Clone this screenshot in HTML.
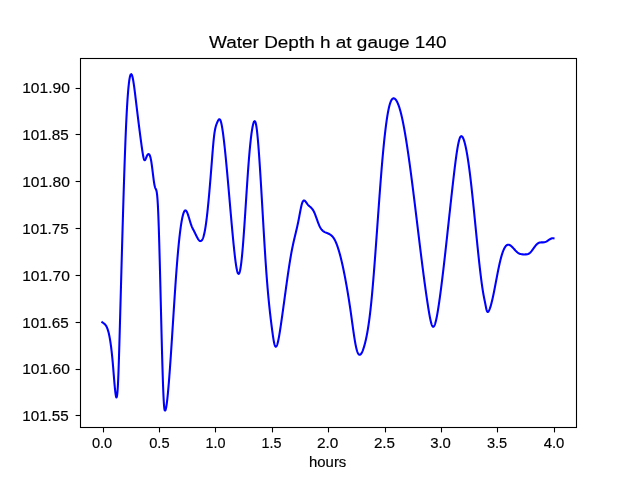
<!DOCTYPE html>
<html><head><meta charset="utf-8"><style>
html,body{margin:0;padding:0;background:#fff;width:640px;height:480px;overflow:hidden}
svg{display:block;will-change:transform}
text{font-family:"Liberation Sans", sans-serif;fill:#000;stroke:#000;stroke-width:0.15px}
</style></head><body>
<svg width="640" height="480" viewBox="0 0 640 480">
<rect width="640" height="480" fill="#fff"/>
<rect x="80.5" y="58.5" width="496" height="369" fill="none" stroke="#000" stroke-width="1.1"/>
<line x1="75.6" y1="88.5" x2="80.5" y2="88.5" stroke="#000" stroke-width="1.1"/>
<line x1="75.6" y1="134.5" x2="80.5" y2="134.5" stroke="#000" stroke-width="1.1"/>
<line x1="75.6" y1="181.5" x2="80.5" y2="181.5" stroke="#000" stroke-width="1.1"/>
<line x1="75.6" y1="228.5" x2="80.5" y2="228.5" stroke="#000" stroke-width="1.1"/>
<line x1="75.6" y1="275.5" x2="80.5" y2="275.5" stroke="#000" stroke-width="1.1"/>
<line x1="75.6" y1="322.5" x2="80.5" y2="322.5" stroke="#000" stroke-width="1.1"/>
<line x1="75.6" y1="369.5" x2="80.5" y2="369.5" stroke="#000" stroke-width="1.1"/>
<line x1="75.6" y1="415.5" x2="80.5" y2="415.5" stroke="#000" stroke-width="1.1"/>
<line x1="103.5" y1="427.5" x2="103.5" y2="432.4" stroke="#000" stroke-width="1.1"/>
<line x1="159.5" y1="427.5" x2="159.5" y2="432.4" stroke="#000" stroke-width="1.1"/>
<line x1="215.5" y1="427.5" x2="215.5" y2="432.4" stroke="#000" stroke-width="1.1"/>
<line x1="272.5" y1="427.5" x2="272.5" y2="432.4" stroke="#000" stroke-width="1.1"/>
<line x1="328.5" y1="427.5" x2="328.5" y2="432.4" stroke="#000" stroke-width="1.1"/>
<line x1="385.5" y1="427.5" x2="385.5" y2="432.4" stroke="#000" stroke-width="1.1"/>
<line x1="441.5" y1="427.5" x2="441.5" y2="432.4" stroke="#000" stroke-width="1.1"/>
<line x1="497.5" y1="427.5" x2="497.5" y2="432.4" stroke="#000" stroke-width="1.1"/>
<line x1="554.5" y1="427.5" x2="554.5" y2="432.4" stroke="#000" stroke-width="1.1"/>
<text x="22.20" y="93.35" font-size="13.90" textLength="47.70" lengthAdjust="spacingAndGlyphs">101.90</text>
<text x="22.20" y="140.19" font-size="13.90" textLength="46.60" lengthAdjust="spacingAndGlyphs">101.85</text>
<text x="22.20" y="187.03" font-size="13.90" textLength="47.70" lengthAdjust="spacingAndGlyphs">101.80</text>
<text x="22.20" y="233.87" font-size="13.90" textLength="46.60" lengthAdjust="spacingAndGlyphs">101.75</text>
<text x="22.20" y="280.71" font-size="13.90" textLength="47.70" lengthAdjust="spacingAndGlyphs">101.70</text>
<text x="22.20" y="327.55" font-size="13.90" textLength="46.60" lengthAdjust="spacingAndGlyphs">101.65</text>
<text x="22.20" y="374.39" font-size="13.90" textLength="47.70" lengthAdjust="spacingAndGlyphs">101.60</text>
<text x="22.20" y="421.23" font-size="13.90" textLength="46.60" lengthAdjust="spacingAndGlyphs">101.55</text>
<text x="91.90" y="447.80" font-size="13.90" textLength="20.30" lengthAdjust="spacingAndGlyphs">0.0</text>
<text x="149.20" y="447.80" font-size="13.90" textLength="20.40" lengthAdjust="spacingAndGlyphs">0.5</text>
<text x="205.60" y="447.80" font-size="13.90" textLength="20.00" lengthAdjust="spacingAndGlyphs">1.0</text>
<text x="261.60" y="447.80" font-size="13.90" textLength="20.00" lengthAdjust="spacingAndGlyphs">1.5</text>
<text x="316.90" y="447.80" font-size="13.90" textLength="21.40" lengthAdjust="spacingAndGlyphs">2.0</text>
<text x="373.90" y="447.80" font-size="13.90" textLength="21.10" lengthAdjust="spacingAndGlyphs">2.5</text>
<text x="430.20" y="447.80" font-size="13.90" textLength="20.70" lengthAdjust="spacingAndGlyphs">3.0</text>
<text x="486.95" y="447.80" font-size="13.90" textLength="20.30" lengthAdjust="spacingAndGlyphs">3.5</text>
<text x="543.70" y="447.80" font-size="13.90" textLength="20.70" lengthAdjust="spacingAndGlyphs">4.0</text>
<text x="309.00" y="466.75" font-size="13.90" textLength="37.30" lengthAdjust="spacingAndGlyphs">hours</text>
<text x="209.00" y="48.30" font-size="16.67" textLength="237.50" lengthAdjust="spacingAndGlyphs">Water Depth h at gauge 140</text>
<path d="M102.30,322.26 L102.80,322.63 L103.30,322.98 L103.80,323.34 L104.28,323.71 L104.74,324.13 L105.16,324.57 L105.54,325.03 L105.90,325.54 L106.22,326.06 L106.52,326.61 L106.80,327.19 L107.06,327.78 L107.30,328.38 L107.52,328.97 L107.72,329.55 L107.92,330.17 L108.10,330.77 L108.28,331.40 L108.44,331.99 L108.60,332.61 L108.76,333.27 L108.90,333.86 L109.04,334.49 L109.18,335.13 L109.32,335.81 L109.44,336.41 L109.56,337.03 L109.68,337.67 L109.80,338.33 L109.92,339.01 L110.04,339.72 L110.14,340.32 L110.24,340.94 L110.34,341.58 L110.44,342.23 L110.54,342.90 L110.64,343.59 L110.74,344.30 L110.84,345.02 L110.94,345.76 L111.02,346.36 L111.10,346.98 L111.18,347.61 L111.26,348.25 L111.34,348.91 L111.42,349.58 L111.50,350.26 L111.58,350.95 L111.66,351.65 L111.74,352.37 L111.82,353.11 L111.90,353.85 L111.98,354.61 L112.06,355.38 L112.14,356.17 L112.20,356.77 L112.26,357.38 L112.32,357.99 L112.38,358.62 L112.44,359.25 L112.50,359.89 L112.56,360.54 L112.62,361.19 L112.68,361.86 L112.74,362.53 L112.80,363.21 L112.86,363.90 L112.92,364.60 L112.98,365.31 L113.04,366.02 L113.10,366.74 L113.16,367.47 L113.22,368.20 L113.28,368.93 L113.34,369.67 L113.40,370.41 L113.46,371.15 L113.52,371.89 L113.58,372.64 L113.64,373.39 L113.70,374.13 L113.76,374.88 L113.82,375.62 L113.88,376.37 L113.94,377.11 L114.00,377.84 L114.06,378.58 L114.12,379.31 L114.18,380.03 L114.24,380.75 L114.30,381.46 L114.36,382.17 L114.42,382.86 L114.48,383.55 L114.54,384.23 L114.60,384.91 L114.66,385.57 L114.72,386.22 L114.78,386.86 L114.84,387.49 L114.90,388.10 L114.96,388.70 L115.04,389.49 L115.12,390.24 L115.20,390.97 L115.28,391.67 L115.36,392.34 L115.44,392.98 L115.52,393.58 L115.62,394.29 L115.72,394.93 L115.84,395.62 L115.98,396.30 L116.14,396.89 L116.44,397.40 L116.78,396.93 L116.94,396.27 L117.06,395.58 L117.16,394.87 L117.24,394.21 L117.32,393.46 L117.38,392.84 L117.44,392.18 L117.50,391.46 L117.56,390.69 L117.62,389.87 L117.68,389.00 L117.72,388.39 L117.76,387.75 L117.80,387.09 L117.84,386.40 L117.88,385.69 L117.92,384.95 L117.96,384.19 L118.00,383.40 L118.04,382.59 L118.08,381.75 L118.12,380.88 L118.16,379.99 L118.20,379.08 L118.24,378.15 L118.28,377.19 L118.32,376.21 L118.36,375.21 L118.40,374.18 L118.44,373.14 L118.48,372.08 L118.52,371.00 L118.56,369.89 L118.60,368.77 L118.64,367.64 L118.68,366.48 L118.72,365.31 L118.76,364.12 L118.78,363.52 L118.80,362.92 L118.82,362.31 L118.84,361.70 L118.86,361.08 L118.88,360.46 L118.90,359.84 L118.92,359.21 L118.94,358.58 L118.96,357.95 L118.98,357.31 L119.00,356.67 L119.02,356.03 L119.04,355.38 L119.06,354.73 L119.08,354.08 L119.10,353.42 L119.12,352.77 L119.14,352.10 L119.16,351.44 L119.18,350.77 L119.20,350.10 L119.22,349.43 L119.24,348.76 L119.26,348.08 L119.28,347.40 L119.30,346.72 L119.32,346.04 L119.34,345.35 L119.36,344.66 L119.38,343.97 L119.40,343.28 L119.42,342.59 L119.44,341.89 L119.46,341.19 L119.48,340.49 L119.50,339.79 L119.52,339.09 L119.54,338.39 L119.56,337.68 L119.58,336.97 L119.60,336.26 L119.62,335.55 L119.64,334.84 L119.66,334.13 L119.68,333.42 L119.70,332.70 L119.72,331.99 L119.74,331.27 L119.76,330.55 L119.78,329.84 L119.80,329.12 L119.82,328.40 L119.84,327.68 L119.86,326.96 L119.88,326.24 L119.90,325.51 L119.92,324.79 L119.94,324.07 L119.96,323.35 L119.98,322.62 L120.00,321.90 L120.02,321.18 L120.04,320.45 L120.06,319.73 L120.08,319.01 L120.10,318.28 L120.12,317.56 L120.14,316.83 L120.16,316.11 L120.18,315.38 L120.20,314.66 L120.22,313.93 L120.24,313.20 L120.26,312.48 L120.28,311.75 L120.30,311.02 L120.32,310.30 L120.34,309.57 L120.36,308.84 L120.38,308.12 L120.40,307.39 L120.42,306.66 L120.44,305.93 L120.46,305.20 L120.48,304.48 L120.50,303.75 L120.52,303.02 L120.54,302.29 L120.56,301.56 L120.58,300.83 L120.60,300.11 L120.62,299.38 L120.64,298.65 L120.66,297.92 L120.68,297.19 L120.70,296.46 L120.72,295.73 L120.74,295.00 L120.76,294.27 L120.78,293.55 L120.80,292.82 L120.82,292.09 L120.84,291.36 L120.86,290.63 L120.88,289.90 L120.90,289.17 L120.92,288.44 L120.94,287.72 L120.96,286.99 L120.98,286.26 L121.00,285.53 L121.02,284.80 L121.04,284.07 L121.06,283.35 L121.08,282.62 L121.10,281.89 L121.12,281.16 L121.14,280.44 L121.16,279.71 L121.18,278.98 L121.20,278.25 L121.22,277.53 L121.24,276.80 L121.26,276.07 L121.28,275.35 L121.30,274.62 L121.32,273.90 L121.34,273.17 L121.36,272.45 L121.38,271.72 L121.40,271.00 L121.42,270.27 L121.44,269.55 L121.46,268.82 L121.48,268.10 L121.50,267.38 L121.52,266.65 L121.54,265.93 L121.56,265.21 L121.58,264.49 L121.60,263.76 L121.62,263.04 L121.64,262.32 L121.66,261.60 L121.68,260.88 L121.70,260.16 L121.72,259.44 L121.74,258.72 L121.76,258.00 L121.78,257.29 L121.80,256.57 L121.82,255.85 L121.84,255.13 L121.86,254.42 L121.88,253.70 L121.90,252.98 L121.92,252.27 L121.94,251.55 L121.96,250.84 L121.98,250.13 L122.00,249.41 L122.02,248.70 L122.04,247.99 L122.06,247.27 L122.08,246.56 L122.10,245.85 L122.12,245.14 L122.14,244.43 L122.16,243.72 L122.18,243.02 L122.20,242.31 L122.22,241.60 L122.24,240.89 L122.26,240.19 L122.28,239.48 L122.30,238.78 L122.32,238.07 L122.34,237.37 L122.36,236.67 L122.38,235.96 L122.40,235.26 L122.42,234.56 L122.44,233.86 L122.46,233.16 L122.48,232.46 L122.50,231.76 L122.52,231.06 L122.54,230.37 L122.56,229.67 L122.58,228.98 L122.60,228.28 L122.62,227.59 L122.64,226.89 L122.66,226.20 L122.68,225.51 L122.70,224.82 L122.72,224.13 L122.74,223.44 L122.76,222.75 L122.78,222.06 L122.80,221.38 L122.82,220.69 L122.84,220.00 L122.86,219.32 L122.88,218.64 L122.90,217.95 L122.92,217.27 L122.94,216.59 L122.96,215.91 L122.98,215.23 L123.00,214.55 L123.02,213.88 L123.04,213.20 L123.06,212.52 L123.08,211.85 L123.10,211.18 L123.12,210.50 L123.14,209.83 L123.16,209.16 L123.18,208.49 L123.20,207.82 L123.22,207.15 L123.24,206.49 L123.26,205.82 L123.28,205.16 L123.30,204.49 L123.32,203.83 L123.34,203.17 L123.36,202.51 L123.38,201.85 L123.40,201.19 L123.42,200.53 L123.44,199.87 L123.46,199.22 L123.48,198.56 L123.50,197.91 L123.52,197.26 L123.54,196.61 L123.56,195.96 L123.58,195.31 L123.60,194.66 L123.62,194.02 L123.64,193.37 L123.66,192.73 L123.68,192.08 L123.70,191.44 L123.72,190.80 L123.74,190.16 L123.76,189.52 L123.78,188.89 L123.80,188.25 L123.82,187.62 L123.84,186.98 L123.86,186.35 L123.88,185.72 L123.90,185.09 L123.92,184.46 L123.94,183.84 L123.96,183.21 L123.98,182.59 L124.00,181.96 L124.02,181.34 L124.04,180.72 L124.06,180.10 L124.08,179.48 L124.10,178.87 L124.12,178.25 L124.14,177.64 L124.16,177.03 L124.18,176.41 L124.20,175.80 L124.22,175.20 L124.24,174.59 L124.26,173.98 L124.28,173.38 L124.30,172.78 L124.32,172.18 L124.34,171.58 L124.38,170.38 L124.42,169.19 L124.46,168.01 L124.50,166.83 L124.54,165.66 L124.58,164.50 L124.62,163.34 L124.66,162.18 L124.70,161.04 L124.74,159.90 L124.78,158.76 L124.82,157.64 L124.86,156.52 L124.90,155.40 L124.94,154.29 L124.98,153.19 L125.02,152.10 L125.06,151.01 L125.10,149.93 L125.14,148.86 L125.18,147.79 L125.22,146.74 L125.26,145.68 L125.30,144.64 L125.34,143.60 L125.38,142.57 L125.42,141.55 L125.46,140.54 L125.50,139.53 L125.54,138.53 L125.58,137.54 L125.62,136.56 L125.66,135.58 L125.70,134.61 L125.74,133.65 L125.78,132.70 L125.82,131.76 L125.86,130.82 L125.90,129.89 L125.94,128.98 L125.98,128.07 L126.02,127.16 L126.06,126.27 L126.10,125.38 L126.14,124.51 L126.18,123.64 L126.22,122.78 L126.26,121.93 L126.30,121.09 L126.34,120.25 L126.38,119.43 L126.42,118.61 L126.46,117.80 L126.50,117.00 L126.54,116.21 L126.58,115.43 L126.62,114.65 L126.66,113.89 L126.70,113.13 L126.74,112.38 L126.78,111.63 L126.82,110.90 L126.86,110.17 L126.90,109.46 L126.94,108.75 L126.98,108.05 L127.02,107.35 L127.06,106.67 L127.10,105.99 L127.14,105.32 L127.18,104.66 L127.22,104.00 L127.26,103.36 L127.30,102.72 L127.34,102.09 L127.38,101.47 L127.42,100.85 L127.46,100.25 L127.50,99.65 L127.56,98.77 L127.62,97.90 L127.68,97.05 L127.74,96.22 L127.80,95.40 L127.86,94.60 L127.92,93.82 L127.98,93.06 L128.04,92.31 L128.10,91.58 L128.16,90.86 L128.22,90.16 L128.28,89.48 L128.34,88.81 L128.40,88.16 L128.46,87.53 L128.52,86.91 L128.58,86.31 L128.66,85.53 L128.74,84.78 L128.82,84.05 L128.90,83.36 L128.98,82.69 L129.06,82.05 L129.14,81.43 L129.24,80.70 L129.34,80.01 L129.44,79.36 L129.54,78.75 L129.66,78.07 L129.78,77.45 L129.92,76.79 L130.08,76.13 L130.26,75.51 L130.48,74.90 L130.78,74.36 L131.30,74.16 L131.70,74.60 L131.96,75.16 L132.16,75.73 L132.34,76.33 L132.50,76.95 L132.64,77.55 L132.78,78.19 L132.90,78.78 L133.02,79.41 L133.14,80.06 L133.26,80.75 L133.36,81.34 L133.46,81.96 L133.56,82.59 L133.66,83.24 L133.76,83.90 L133.86,84.59 L133.96,85.28 L134.06,86.00 L134.16,86.72 L134.26,87.46 L134.34,88.06 L134.42,88.67 L134.50,89.28 L134.58,89.90 L134.66,90.52 L134.74,91.16 L134.82,91.79 L134.90,92.43 L134.98,93.08 L135.06,93.73 L135.14,94.38 L135.22,95.03 L135.30,95.69 L135.38,96.35 L135.46,97.01 L135.54,97.67 L135.62,98.34 L135.70,99.00 L135.78,99.67 L135.86,100.33 L135.94,100.99 L136.02,101.66 L136.10,102.32 L136.18,102.98 L136.26,103.65 L136.34,104.31 L136.42,104.97 L136.50,105.64 L136.58,106.30 L136.66,106.96 L136.74,107.62 L136.82,108.28 L136.90,108.94 L136.98,109.60 L137.06,110.26 L137.14,110.92 L137.22,111.58 L137.30,112.24 L137.38,112.89 L137.46,113.55 L137.54,114.20 L137.62,114.86 L137.70,115.51 L137.78,116.17 L137.86,116.82 L137.94,117.47 L138.02,118.12 L138.10,118.77 L138.18,119.42 L138.26,120.06 L138.34,120.71 L138.42,121.35 L138.50,122.00 L138.58,122.64 L138.66,123.28 L138.74,123.92 L138.82,124.56 L138.90,125.20 L138.98,125.83 L139.06,126.47 L139.14,127.10 L139.22,127.73 L139.30,128.37 L139.38,128.99 L139.46,129.62 L139.54,130.25 L139.62,130.87 L139.70,131.49 L139.78,132.11 L139.86,132.73 L139.94,133.35 L140.02,133.97 L140.10,134.58 L140.18,135.19 L140.26,135.80 L140.34,136.41 L140.42,137.01 L140.50,137.62 L140.58,138.22 L140.66,138.82 L140.74,139.42 L140.82,140.01 L140.92,140.76 L141.02,141.49 L141.12,142.23 L141.22,142.96 L141.32,143.69 L141.42,144.41 L141.52,145.13 L141.62,145.85 L141.72,146.56 L141.82,147.27 L141.92,147.97 L142.02,148.67 L142.12,149.36 L142.22,150.05 L142.32,150.73 L142.42,151.39 L142.52,152.05 L142.62,152.69 L142.72,153.31 L142.82,153.92 L142.94,154.63 L143.06,155.30 L143.18,155.95 L143.30,156.56 L143.44,157.23 L143.58,157.84 L143.74,158.46 L143.92,159.07 L144.14,159.65 L144.46,160.16 L145.00,160.12 L145.36,159.61 L145.64,159.04 L145.88,158.46 L146.10,157.89 L146.32,157.32 L146.54,156.76 L146.78,156.19 L147.04,155.64 L147.34,155.08 L147.68,154.57 L148.12,154.14 L148.70,154.00 L149.20,154.34 L149.54,154.84 L149.80,155.39 L150.02,155.96 L150.22,156.58 L150.40,157.22 L150.56,157.85 L150.70,158.46 L150.84,159.11 L150.96,159.72 L151.08,160.36 L151.20,161.04 L151.30,161.64 L151.40,162.26 L151.50,162.91 L151.60,163.59 L151.70,164.29 L151.80,165.01 L151.90,165.74 L151.98,166.34 L152.06,166.96 L152.14,167.58 L152.22,168.20 L152.30,168.84 L152.38,169.48 L152.46,170.12 L152.54,170.77 L152.62,171.42 L152.70,172.07 L152.78,172.72 L152.86,173.38 L152.94,174.03 L153.02,174.68 L153.10,175.32 L153.18,175.96 L153.26,176.60 L153.34,177.23 L153.42,177.85 L153.50,178.47 L153.58,179.07 L153.68,179.81 L153.78,180.54 L153.88,181.24 L153.98,181.92 L154.08,182.58 L154.18,183.21 L154.28,183.82 L154.40,184.50 L154.52,185.14 L154.64,185.73 L154.78,186.36 L154.94,186.97 L155.14,187.59 L155.38,188.17 L155.66,188.71 L155.94,189.26 L156.18,189.85 L156.36,190.42 L156.52,191.06 L156.66,191.75 L156.78,192.44 L156.88,193.10 L156.98,193.84 L157.06,194.50 L157.14,195.22 L157.22,196.01 L157.28,196.64 L157.34,197.31 L157.40,198.02 L157.46,198.78 L157.52,199.58 L157.58,200.43 L157.64,201.32 L157.68,201.94 L157.72,202.59 L157.76,203.25 L157.80,203.94 L157.84,204.66 L157.88,205.39 L157.92,206.15 L157.96,206.94 L158.00,207.75 L158.04,208.58 L158.08,209.43 L158.12,210.31 L158.16,211.21 L158.20,212.14 L158.24,213.08 L158.28,214.05 L158.32,215.03 L158.36,216.04 L158.40,217.07 L158.44,218.12 L158.48,219.19 L158.52,220.27 L158.56,221.38 L158.60,222.50 L158.64,223.65 L158.68,224.81 L158.72,225.99 L158.76,227.19 L158.78,227.79 L158.80,228.40 L158.82,229.02 L158.84,229.63 L158.86,230.25 L158.88,230.88 L158.90,231.51 L158.92,232.14 L158.94,232.78 L158.96,233.42 L158.98,234.07 L159.00,234.72 L159.02,235.37 L159.04,236.03 L159.06,236.69 L159.08,237.35 L159.10,238.02 L159.12,238.69 L159.14,239.36 L159.16,240.04 L159.18,240.72 L159.20,241.41 L159.22,242.10 L159.24,242.79 L159.26,243.48 L159.28,244.18 L159.30,244.88 L159.32,245.59 L159.34,246.29 L159.36,247.00 L159.38,247.72 L159.40,248.43 L159.42,249.15 L159.44,249.88 L159.46,250.60 L159.48,251.33 L159.50,252.06 L159.52,252.79 L159.54,253.53 L159.56,254.27 L159.58,255.01 L159.60,255.75 L159.62,256.50 L159.64,257.24 L159.66,258.00 L159.68,258.75 L159.70,259.50 L159.72,260.26 L159.74,261.02 L159.76,261.79 L159.78,262.55 L159.80,263.32 L159.82,264.08 L159.84,264.86 L159.86,265.63 L159.88,266.40 L159.90,267.18 L159.92,267.96 L159.94,268.74 L159.96,269.52 L159.98,270.30 L160.00,271.09 L160.02,271.88 L160.04,272.66 L160.06,273.46 L160.08,274.25 L160.10,275.04 L160.12,275.83 L160.14,276.63 L160.16,277.43 L160.18,278.23 L160.20,279.03 L160.22,279.83 L160.24,280.63 L160.26,281.43 L160.28,282.24 L160.30,283.04 L160.32,283.85 L160.34,284.66 L160.36,285.47 L160.38,286.28 L160.40,287.09 L160.42,287.90 L160.44,288.71 L160.46,289.52 L160.48,290.34 L160.50,291.15 L160.52,291.96 L160.54,292.78 L160.56,293.59 L160.58,294.41 L160.60,295.23 L160.62,296.04 L160.64,296.86 L160.66,297.68 L160.68,298.50 L160.70,299.31 L160.72,300.13 L160.74,300.95 L160.76,301.77 L160.78,302.59 L160.80,303.40 L160.82,304.22 L160.84,305.04 L160.86,305.86 L160.88,306.68 L160.90,307.49 L160.92,308.31 L160.94,309.13 L160.96,309.95 L160.98,310.76 L161.00,311.58 L161.02,312.39 L161.04,313.21 L161.06,314.02 L161.08,314.84 L161.10,315.65 L161.12,316.46 L161.14,317.27 L161.16,318.09 L161.18,318.90 L161.20,319.71 L161.22,320.51 L161.24,321.32 L161.26,322.13 L161.28,322.93 L161.30,323.74 L161.32,324.54 L161.34,325.34 L161.36,326.15 L161.38,326.95 L161.40,327.74 L161.42,328.54 L161.44,329.34 L161.46,330.13 L161.48,330.92 L161.50,331.72 L161.52,332.51 L161.54,333.29 L161.56,334.08 L161.58,334.87 L161.60,335.65 L161.62,336.43 L161.64,337.21 L161.66,337.99 L161.68,338.77 L161.70,339.54 L161.72,340.31 L161.74,341.08 L161.76,341.85 L161.78,342.62 L161.80,343.38 L161.82,344.15 L161.84,344.91 L161.86,345.66 L161.88,346.42 L161.90,347.17 L161.92,347.92 L161.94,348.67 L161.96,349.42 L161.98,350.16 L162.00,350.90 L162.02,351.64 L162.04,352.38 L162.06,353.11 L162.08,353.84 L162.10,354.57 L162.12,355.29 L162.14,356.01 L162.16,356.73 L162.18,357.45 L162.20,358.16 L162.22,358.87 L162.24,359.58 L162.26,360.28 L162.28,360.98 L162.30,361.68 L162.32,362.38 L162.34,363.07 L162.36,363.75 L162.38,364.44 L162.40,365.12 L162.42,365.80 L162.44,366.47 L162.46,367.14 L162.48,367.81 L162.50,368.47 L162.52,369.13 L162.54,369.79 L162.56,370.44 L162.58,371.09 L162.60,371.74 L162.62,372.38 L162.64,373.02 L162.66,373.65 L162.68,374.28 L162.70,374.90 L162.72,375.53 L162.74,376.14 L162.76,376.76 L162.78,377.36 L162.80,377.97 L162.82,378.57 L162.86,379.76 L162.90,380.93 L162.94,382.08 L162.98,383.21 L163.02,384.33 L163.06,385.43 L163.10,386.50 L163.14,387.56 L163.18,388.60 L163.22,389.62 L163.26,390.61 L163.30,391.59 L163.34,392.54 L163.38,393.48 L163.42,394.39 L163.46,395.27 L163.50,396.14 L163.54,396.98 L163.58,397.80 L163.62,398.60 L163.66,399.37 L163.70,400.12 L163.74,400.84 L163.78,401.54 L163.82,402.21 L163.86,402.86 L163.90,403.48 L163.96,404.36 L164.02,405.18 L164.08,405.94 L164.14,406.63 L164.20,407.27 L164.28,408.01 L164.36,408.65 L164.46,409.30 L164.58,409.89 L164.78,410.47 L165.24,410.47 L165.52,409.92 L165.72,409.32 L165.88,408.72 L166.02,408.11 L166.16,407.42 L166.28,406.77 L166.40,406.06 L166.50,405.42 L166.60,404.75 L166.70,404.05 L166.80,403.31 L166.88,402.69 L166.96,402.06 L167.04,401.40 L167.12,400.73 L167.20,400.03 L167.28,399.32 L167.36,398.59 L167.44,397.85 L167.52,397.08 L167.60,396.31 L167.68,395.51 L167.74,394.91 L167.80,394.30 L167.86,393.67 L167.92,393.05 L167.98,392.41 L168.04,391.77 L168.10,391.12 L168.16,390.46 L168.22,389.80 L168.28,389.13 L168.34,388.45 L168.40,387.77 L168.46,387.08 L168.52,386.39 L168.58,385.68 L168.64,384.97 L168.70,384.26 L168.76,383.54 L168.82,382.81 L168.88,382.08 L168.94,381.34 L169.00,380.59 L169.06,379.84 L169.12,379.09 L169.18,378.32 L169.24,377.56 L169.30,376.79 L169.36,376.01 L169.42,375.22 L169.48,374.44 L169.54,373.64 L169.60,372.85 L169.66,372.04 L169.72,371.23 L169.78,370.42 L169.84,369.61 L169.90,368.78 L169.96,367.96 L170.02,367.13 L170.08,366.29 L170.14,365.45 L170.20,364.61 L170.26,363.77 L170.32,362.91 L170.38,362.06 L170.44,361.20 L170.50,360.34 L170.56,359.47 L170.62,358.61 L170.68,357.73 L170.74,356.86 L170.80,355.98 L170.86,355.10 L170.92,354.21 L170.98,353.32 L171.04,352.43 L171.10,351.54 L171.16,350.64 L171.20,350.04 L171.24,349.44 L171.28,348.84 L171.32,348.24 L171.36,347.64 L171.40,347.03 L171.44,346.43 L171.48,345.82 L171.52,345.21 L171.56,344.60 L171.60,343.99 L171.64,343.38 L171.68,342.77 L171.72,342.16 L171.76,341.55 L171.80,340.93 L171.84,340.32 L171.88,339.70 L171.92,339.09 L171.96,338.47 L172.00,337.85 L172.04,337.23 L172.08,336.62 L172.12,336.00 L172.16,335.38 L172.20,334.76 L172.24,334.14 L172.28,333.51 L172.32,332.89 L172.36,332.27 L172.40,331.65 L172.44,331.02 L172.48,330.40 L172.52,329.78 L172.56,329.15 L172.60,328.53 L172.64,327.90 L172.68,327.28 L172.72,326.65 L172.76,326.03 L172.80,325.40 L172.84,324.78 L172.88,324.15 L172.92,323.53 L172.96,322.90 L173.00,322.27 L173.04,321.65 L173.08,321.02 L173.12,320.40 L173.16,319.77 L173.20,319.14 L173.24,318.52 L173.28,317.89 L173.32,317.27 L173.36,316.64 L173.40,316.02 L173.44,315.39 L173.48,314.77 L173.52,314.14 L173.56,313.52 L173.60,312.90 L173.64,312.27 L173.68,311.65 L173.72,311.03 L173.76,310.41 L173.80,309.78 L173.84,309.16 L173.88,308.54 L173.92,307.92 L173.96,307.30 L174.00,306.69 L174.04,306.07 L174.08,305.45 L174.12,304.83 L174.16,304.22 L174.20,303.60 L174.24,302.99 L174.28,302.37 L174.32,301.76 L174.36,301.15 L174.40,300.53 L174.44,299.92 L174.48,299.31 L174.52,298.71 L174.56,298.10 L174.60,297.49 L174.64,296.88 L174.68,296.28 L174.72,295.68 L174.76,295.07 L174.80,294.47 L174.84,293.87 L174.88,293.27 L174.94,292.37 L175.00,291.48 L175.06,290.59 L175.12,289.70 L175.18,288.81 L175.24,287.93 L175.30,287.05 L175.36,286.17 L175.42,285.30 L175.48,284.43 L175.54,283.56 L175.60,282.70 L175.66,281.84 L175.72,280.99 L175.78,280.14 L175.84,279.29 L175.90,278.44 L175.96,277.61 L176.02,276.77 L176.08,275.94 L176.14,275.11 L176.20,274.29 L176.26,273.47 L176.32,272.66 L176.38,271.85 L176.44,271.05 L176.50,270.25 L176.56,269.45 L176.62,268.66 L176.68,267.88 L176.74,267.10 L176.80,266.33 L176.86,265.56 L176.92,264.79 L176.98,264.04 L177.04,263.28 L177.10,262.53 L177.16,261.79 L177.22,261.05 L177.28,260.32 L177.34,259.60 L177.40,258.87 L177.46,258.16 L177.52,257.45 L177.58,256.74 L177.64,256.04 L177.70,255.34 L177.76,254.65 L177.82,253.97 L177.88,253.29 L177.94,252.61 L178.00,251.95 L178.06,251.28 L178.12,250.62 L178.18,249.97 L178.24,249.32 L178.30,248.68 L178.36,248.04 L178.42,247.41 L178.48,246.78 L178.54,246.16 L178.60,245.54 L178.66,244.93 L178.72,244.32 L178.78,243.72 L178.86,242.93 L178.94,242.15 L179.02,241.37 L179.10,240.61 L179.18,239.85 L179.26,239.11 L179.34,238.37 L179.42,237.64 L179.50,236.92 L179.58,236.22 L179.66,235.52 L179.74,234.83 L179.82,234.15 L179.90,233.48 L179.98,232.82 L180.06,232.17 L180.14,231.52 L180.22,230.89 L180.30,230.27 L180.38,229.65 L180.46,229.05 L180.56,228.31 L180.66,227.58 L180.76,226.87 L180.86,226.17 L180.96,225.49 L181.06,224.82 L181.16,224.17 L181.26,223.53 L181.36,222.91 L181.46,222.30 L181.56,221.71 L181.68,221.02 L181.80,220.35 L181.92,219.70 L182.04,219.07 L182.16,218.47 L182.30,217.79 L182.44,217.14 L182.58,216.52 L182.72,215.93 L182.88,215.30 L183.04,214.70 L183.22,214.07 L183.40,213.49 L183.60,212.91 L183.82,212.33 L184.08,211.75 L184.38,211.21 L184.76,210.71 L185.28,210.40 L185.86,210.54 L186.30,210.98 L186.64,211.49 L186.94,212.05 L187.20,212.62 L187.44,213.20 L187.66,213.77 L187.88,214.38 L188.08,214.96 L188.28,215.56 L188.48,216.19 L188.66,216.76 L188.84,217.35 L189.02,217.95 L189.20,218.55 L189.38,219.16 L189.56,219.76 L189.74,220.37 L189.92,220.97 L190.10,221.57 L190.28,222.16 L190.46,222.74 L190.66,223.37 L190.86,223.99 L191.06,224.58 L191.28,225.19 L191.50,225.78 L191.74,226.39 L191.98,226.96 L192.24,227.54 L192.50,228.10 L192.78,228.68 L193.06,229.24 L193.34,229.78 L193.62,230.31 L193.90,230.84 L194.18,231.38 L194.46,231.92 L194.74,232.48 L195.02,233.06 L195.30,233.64 L195.56,234.18 L195.82,234.72 L196.10,235.30 L196.38,235.88 L196.66,236.44 L196.94,236.99 L197.22,237.52 L197.52,238.06 L197.84,238.61 L198.16,239.12 L198.52,239.64 L198.90,240.11 L199.32,240.54 L199.82,240.90 L200.40,241.09 L201.00,241.00 L201.50,240.67 L201.90,240.22 L202.24,239.70 L202.54,239.13 L202.80,238.56 L203.04,237.95 L203.26,237.33 L203.46,236.71 L203.64,236.10 L203.82,235.46 L203.98,234.84 L204.14,234.19 L204.28,233.59 L204.42,232.96 L204.56,232.30 L204.68,231.71 L204.80,231.09 L204.92,230.46 L205.04,229.80 L205.16,229.12 L205.28,228.41 L205.38,227.80 L205.48,227.18 L205.58,226.54 L205.68,225.88 L205.78,225.21 L205.88,224.52 L205.98,223.81 L206.08,223.09 L206.18,222.35 L206.26,221.74 L206.34,221.13 L206.42,220.51 L206.50,219.87 L206.58,219.23 L206.66,218.58 L206.74,217.92 L206.82,217.25 L206.90,216.57 L206.98,215.88 L207.06,215.18 L207.14,214.47 L207.22,213.75 L207.30,213.03 L207.38,212.30 L207.46,211.55 L207.54,210.80 L207.62,210.05 L207.70,209.28 L207.78,208.51 L207.86,207.72 L207.94,206.94 L208.00,206.34 L208.06,205.74 L208.12,205.13 L208.18,204.52 L208.24,203.91 L208.30,203.29 L208.36,202.67 L208.42,202.04 L208.48,201.41 L208.54,200.78 L208.60,200.14 L208.66,199.50 L208.72,198.86 L208.78,198.21 L208.84,197.56 L208.90,196.91 L208.96,196.25 L209.02,195.58 L209.08,194.92 L209.14,194.25 L209.20,193.58 L209.26,192.90 L209.32,192.23 L209.38,191.55 L209.44,190.86 L209.50,190.17 L209.56,189.48 L209.62,188.79 L209.68,188.09 L209.74,187.40 L209.80,186.69 L209.86,185.99 L209.92,185.28 L209.98,184.57 L210.04,183.86 L210.10,183.15 L210.16,182.43 L210.22,181.71 L210.28,180.99 L210.34,180.26 L210.40,179.54 L210.46,178.81 L210.52,178.08 L210.58,177.34 L210.64,176.61 L210.70,175.87 L210.76,175.13 L210.82,174.39 L210.88,173.65 L210.94,172.90 L211.00,172.16 L211.06,171.41 L211.12,170.66 L211.18,169.91 L211.24,169.15 L211.30,168.40 L211.36,167.64 L211.42,166.89 L211.48,166.13 L211.54,165.37 L211.60,164.60 L211.66,163.84 L211.72,163.08 L211.78,162.31 L211.84,161.55 L211.90,160.78 L211.96,160.01 L212.02,159.25 L212.08,158.48 L212.14,157.71 L212.20,156.95 L212.26,156.19 L212.32,155.43 L212.38,154.67 L212.44,153.91 L212.50,153.16 L212.56,152.41 L212.62,151.67 L212.68,150.93 L212.74,150.20 L212.80,149.47 L212.86,148.75 L212.92,148.03 L212.98,147.32 L213.04,146.62 L213.10,145.93 L213.16,145.24 L213.22,144.57 L213.28,143.90 L213.34,143.24 L213.40,142.59 L213.46,141.95 L213.52,141.33 L213.58,140.71 L213.64,140.10 L213.72,139.31 L213.80,138.55 L213.88,137.80 L213.96,137.09 L214.04,136.39 L214.12,135.72 L214.20,135.08 L214.28,134.46 L214.36,133.86 L214.46,133.15 L214.56,132.47 L214.66,131.82 L214.76,131.21 L214.88,130.51 L215.00,129.86 L215.12,129.24 L215.26,128.57 L215.40,127.94 L215.56,127.28 L215.72,126.67 L215.90,126.03 L216.08,125.45 L216.28,124.85 L216.50,124.25 L216.72,123.68 L216.96,123.09 L217.20,122.51 L217.44,121.95 L217.70,121.38 L217.98,120.81 L218.28,120.27 L218.62,119.78 L219.06,119.36 L219.64,119.30 L220.10,119.72 L220.40,120.25 L220.64,120.84 L220.84,121.44 L221.02,122.05 L221.18,122.67 L221.34,123.33 L221.48,123.96 L221.62,124.64 L221.74,125.24 L221.86,125.88 L221.98,126.54 L222.10,127.23 L222.20,127.83 L222.30,128.44 L222.40,129.07 L222.50,129.72 L222.60,130.38 L222.70,131.07 L222.80,131.76 L222.90,132.47 L223.00,133.20 L223.10,133.94 L223.18,134.55 L223.26,135.16 L223.34,135.78 L223.42,136.41 L223.50,137.05 L223.58,137.70 L223.66,138.35 L223.74,139.02 L223.82,139.68 L223.90,140.36 L223.98,141.05 L224.06,141.74 L224.14,142.43 L224.22,143.14 L224.30,143.85 L224.38,144.56 L224.46,145.29 L224.54,146.01 L224.62,146.75 L224.70,147.49 L224.78,148.24 L224.86,148.99 L224.94,149.75 L225.02,150.51 L225.10,151.28 L225.18,152.05 L225.26,152.83 L225.34,153.61 L225.42,154.40 L225.50,155.20 L225.56,155.80 L225.62,156.40 L225.68,157.00 L225.74,157.61 L225.80,158.22 L225.86,158.83 L225.92,159.44 L225.98,160.06 L226.04,160.68 L226.10,161.30 L226.16,161.92 L226.22,162.55 L226.28,163.18 L226.34,163.81 L226.40,164.44 L226.46,165.08 L226.52,165.71 L226.58,166.35 L226.64,166.99 L226.70,167.64 L226.76,168.28 L226.82,168.93 L226.88,169.58 L226.94,170.23 L227.00,170.88 L227.06,171.53 L227.12,172.19 L227.18,172.85 L227.24,173.50 L227.30,174.16 L227.36,174.83 L227.42,175.49 L227.48,176.15 L227.54,176.82 L227.60,177.49 L227.66,178.16 L227.72,178.83 L227.78,179.50 L227.84,180.17 L227.90,180.85 L227.96,181.52 L228.02,182.20 L228.08,182.87 L228.14,183.55 L228.20,184.23 L228.26,184.91 L228.32,185.59 L228.38,186.27 L228.44,186.96 L228.50,187.64 L228.56,188.32 L228.62,189.01 L228.68,189.69 L228.74,190.38 L228.80,191.06 L228.86,191.75 L228.92,192.44 L228.98,193.13 L229.04,193.82 L229.10,194.50 L229.16,195.19 L229.22,195.88 L229.28,196.57 L229.34,197.26 L229.40,197.95 L229.46,198.64 L229.52,199.33 L229.58,200.02 L229.64,200.71 L229.70,201.40 L229.76,202.09 L229.82,202.78 L229.88,203.47 L229.94,204.16 L230.00,204.85 L230.06,205.54 L230.12,206.23 L230.18,206.92 L230.24,207.60 L230.30,208.29 L230.36,208.98 L230.42,209.66 L230.48,210.35 L230.54,211.04 L230.60,211.72 L230.66,212.40 L230.72,213.09 L230.78,213.77 L230.84,214.45 L230.90,215.13 L230.96,215.81 L231.02,216.49 L231.08,217.17 L231.14,217.85 L231.20,218.52 L231.26,219.20 L231.32,219.87 L231.38,220.54 L231.44,221.22 L231.50,221.89 L231.56,222.56 L231.62,223.22 L231.68,223.89 L231.74,224.55 L231.80,225.22 L231.86,225.88 L231.92,226.54 L231.98,227.20 L232.04,227.86 L232.10,228.51 L232.16,229.17 L232.22,229.82 L232.28,230.47 L232.34,231.12 L232.40,231.77 L232.46,232.41 L232.52,233.05 L232.58,233.69 L232.64,234.33 L232.70,234.97 L232.76,235.61 L232.82,236.24 L232.88,236.87 L232.94,237.50 L233.00,238.12 L233.06,238.75 L233.12,239.37 L233.18,239.99 L233.24,240.61 L233.30,241.22 L233.36,241.83 L233.42,242.44 L233.48,243.05 L233.54,243.65 L233.60,244.25 L233.66,244.85 L233.74,245.64 L233.82,246.43 L233.90,247.21 L233.98,247.98 L234.06,248.75 L234.14,249.51 L234.22,250.27 L234.30,251.01 L234.38,251.75 L234.46,252.48 L234.54,253.21 L234.62,253.92 L234.70,254.63 L234.78,255.33 L234.86,256.02 L234.94,256.70 L235.02,257.37 L235.10,258.03 L235.18,258.68 L235.26,259.32 L235.34,259.95 L235.42,260.57 L235.50,261.18 L235.58,261.78 L235.68,262.51 L235.78,263.22 L235.88,263.92 L235.98,264.59 L236.08,265.25 L236.18,265.89 L236.28,266.50 L236.38,267.10 L236.50,267.78 L236.62,268.44 L236.74,269.06 L236.86,269.65 L237.00,270.29 L237.14,270.89 L237.30,271.51 L237.48,272.13 L237.68,272.72 L237.92,273.28 L238.26,273.79 L238.80,273.88 L239.18,273.39 L239.44,272.80 L239.64,272.20 L239.82,271.55 L239.98,270.90 L240.12,270.26 L240.24,269.67 L240.36,269.03 L240.48,268.35 L240.58,267.75 L240.68,267.12 L240.78,266.46 L240.88,265.77 L240.98,265.05 L241.06,264.45 L241.14,263.84 L241.22,263.20 L241.30,262.55 L241.38,261.88 L241.46,261.19 L241.54,260.48 L241.62,259.75 L241.70,259.00 L241.78,258.24 L241.86,257.46 L241.92,256.86 L241.98,256.25 L242.04,255.64 L242.10,255.01 L242.16,254.38 L242.22,253.73 L242.28,253.08 L242.34,252.42 L242.40,251.74 L242.46,251.07 L242.52,250.38 L242.58,249.68 L242.64,248.98 L242.70,248.27 L242.76,247.55 L242.82,246.82 L242.88,246.08 L242.94,245.34 L243.00,244.59 L243.06,243.84 L243.12,243.07 L243.18,242.30 L243.24,241.53 L243.30,240.75 L243.36,239.96 L243.42,239.16 L243.48,238.36 L243.54,237.55 L243.60,236.74 L243.66,235.92 L243.72,235.10 L243.78,234.27 L243.84,233.43 L243.90,232.59 L243.96,231.75 L244.02,230.90 L244.08,230.05 L244.14,229.19 L244.20,228.33 L244.26,227.46 L244.32,226.59 L244.38,225.71 L244.44,224.84 L244.50,223.95 L244.56,223.07 L244.62,222.18 L244.68,221.29 L244.74,220.39 L244.80,219.50 L244.84,218.90 L244.88,218.30 L244.92,217.69 L244.96,217.09 L245.00,216.49 L245.04,215.88 L245.08,215.28 L245.12,214.67 L245.16,214.06 L245.20,213.45 L245.24,212.84 L245.28,212.23 L245.32,211.62 L245.36,211.01 L245.40,210.40 L245.44,209.79 L245.48,209.17 L245.52,208.56 L245.56,207.94 L245.60,207.33 L245.64,206.72 L245.68,206.10 L245.72,205.49 L245.76,204.87 L245.80,204.25 L245.84,203.64 L245.88,203.02 L245.92,202.41 L245.96,201.79 L246.00,201.17 L246.04,200.56 L246.08,199.94 L246.12,199.33 L246.16,198.71 L246.20,198.10 L246.24,197.48 L246.28,196.87 L246.32,196.25 L246.36,195.64 L246.40,195.03 L246.44,194.41 L246.48,193.80 L246.52,193.19 L246.56,192.58 L246.60,191.97 L246.64,191.36 L246.68,190.75 L246.72,190.14 L246.76,189.53 L246.80,188.93 L246.84,188.32 L246.88,187.72 L246.92,187.11 L246.96,186.51 L247.00,185.91 L247.04,185.31 L247.08,184.71 L247.14,183.82 L247.20,182.92 L247.26,182.03 L247.32,181.15 L247.38,180.26 L247.44,179.38 L247.50,178.51 L247.56,177.64 L247.62,176.77 L247.68,175.90 L247.74,175.04 L247.80,174.19 L247.86,173.34 L247.92,172.49 L247.98,171.65 L248.04,170.81 L248.10,169.98 L248.16,169.15 L248.22,168.33 L248.28,167.52 L248.34,166.71 L248.40,165.90 L248.46,165.11 L248.52,164.31 L248.58,163.53 L248.64,162.75 L248.70,161.98 L248.76,161.21 L248.82,160.45 L248.88,159.70 L248.94,158.95 L249.00,158.21 L249.06,157.48 L249.12,156.75 L249.18,156.04 L249.24,155.32 L249.30,154.62 L249.36,153.92 L249.42,153.23 L249.48,152.54 L249.54,151.87 L249.60,151.19 L249.66,150.53 L249.72,149.87 L249.78,149.22 L249.84,148.58 L249.90,147.94 L249.96,147.31 L250.02,146.69 L250.08,146.08 L250.14,145.47 L250.20,144.87 L250.28,144.08 L250.36,143.30 L250.44,142.53 L250.52,141.78 L250.60,141.04 L250.68,140.31 L250.76,139.59 L250.84,138.89 L250.92,138.20 L251.00,137.53 L251.08,136.86 L251.16,136.21 L251.24,135.57 L251.32,134.95 L251.40,134.33 L251.48,133.73 L251.58,133.00 L251.68,132.29 L251.78,131.60 L251.88,130.93 L251.98,130.29 L252.08,129.66 L252.18,129.05 L252.30,128.35 L252.42,127.68 L252.54,127.04 L252.66,126.43 L252.80,125.75 L252.94,125.12 L253.08,124.53 L253.24,123.91 L253.42,123.27 L253.62,122.66 L253.84,122.09 L254.12,121.55 L254.56,121.14 L255.06,121.40 L255.36,121.96 L255.58,122.57 L255.76,123.20 L255.92,123.87 L256.06,124.54 L256.18,125.17 L256.30,125.87 L256.40,126.49 L256.50,127.15 L256.60,127.84 L256.70,128.58 L256.78,129.19 L256.86,129.83 L256.94,130.49 L257.02,131.17 L257.10,131.87 L257.18,132.59 L257.26,133.34 L257.34,134.10 L257.42,134.89 L257.48,135.49 L257.54,136.10 L257.60,136.73 L257.66,137.36 L257.72,138.01 L257.78,138.66 L257.84,139.33 L257.90,140.00 L257.96,140.69 L258.02,141.38 L258.08,142.09 L258.14,142.80 L258.20,143.53 L258.26,144.26 L258.32,145.00 L258.38,145.75 L258.44,146.51 L258.50,147.28 L258.56,148.05 L258.62,148.84 L258.68,149.63 L258.74,150.43 L258.80,151.23 L258.86,152.05 L258.92,152.87 L258.98,153.70 L259.04,154.53 L259.10,155.38 L259.16,156.22 L259.22,157.08 L259.28,157.94 L259.34,158.81 L259.40,159.68 L259.46,160.56 L259.52,161.45 L259.58,162.34 L259.64,163.24 L259.68,163.84 L259.72,164.44 L259.76,165.05 L259.80,165.66 L259.84,166.27 L259.88,166.88 L259.92,167.49 L259.96,168.11 L260.00,168.73 L260.04,169.35 L260.08,169.97 L260.12,170.60 L260.16,171.22 L260.20,171.85 L260.24,172.48 L260.28,173.12 L260.32,173.75 L260.36,174.39 L260.40,175.02 L260.44,175.66 L260.48,176.31 L260.52,176.95 L260.56,177.59 L260.60,178.24 L260.64,178.89 L260.68,179.54 L260.72,180.19 L260.76,180.84 L260.80,181.50 L260.84,182.15 L260.88,182.81 L260.92,183.47 L260.96,184.13 L261.00,184.79 L261.04,185.45 L261.08,186.12 L261.12,186.78 L261.16,187.45 L261.20,188.12 L261.24,188.78 L261.28,189.45 L261.32,190.13 L261.36,190.80 L261.40,191.47 L261.44,192.14 L261.48,192.82 L261.52,193.49 L261.56,194.17 L261.60,194.85 L261.64,195.53 L261.68,196.20 L261.72,196.88 L261.76,197.56 L261.80,198.25 L261.84,198.93 L261.88,199.61 L261.92,200.29 L261.96,200.98 L262.00,201.66 L262.04,202.34 L262.08,203.03 L262.12,203.72 L262.16,204.40 L262.20,205.09 L262.24,205.77 L262.28,206.46 L262.32,207.15 L262.36,207.83 L262.40,208.52 L262.44,209.21 L262.48,209.90 L262.52,210.59 L262.56,211.27 L262.60,211.96 L262.64,212.65 L262.68,213.34 L262.72,214.03 L262.76,214.71 L262.80,215.40 L262.84,216.09 L262.88,216.78 L262.92,217.46 L262.96,218.15 L263.00,218.84 L263.04,219.52 L263.08,220.21 L263.12,220.90 L263.16,221.58 L263.20,222.27 L263.24,222.95 L263.28,223.63 L263.32,224.32 L263.36,225.00 L263.40,225.68 L263.44,226.36 L263.48,227.05 L263.52,227.73 L263.56,228.41 L263.60,229.08 L263.64,229.76 L263.68,230.44 L263.72,231.12 L263.76,231.79 L263.80,232.47 L263.84,233.14 L263.88,233.81 L263.92,234.48 L263.96,235.15 L264.00,235.82 L264.04,236.49 L264.08,237.16 L264.12,237.83 L264.16,238.49 L264.20,239.15 L264.24,239.82 L264.28,240.48 L264.32,241.14 L264.36,241.80 L264.40,242.45 L264.44,243.11 L264.48,243.76 L264.52,244.42 L264.56,245.07 L264.60,245.72 L264.64,246.37 L264.68,247.01 L264.72,247.66 L264.76,248.30 L264.80,248.94 L264.84,249.58 L264.88,250.22 L264.92,250.85 L264.96,251.49 L265.00,252.12 L265.04,252.75 L265.08,253.38 L265.12,254.01 L265.16,254.63 L265.20,255.25 L265.24,255.87 L265.28,256.49 L265.32,257.11 L265.36,257.72 L265.40,258.34 L265.44,258.95 L265.48,259.55 L265.52,260.16 L265.56,260.76 L265.60,261.36 L265.66,262.26 L265.72,263.15 L265.78,264.03 L265.84,264.91 L265.90,265.79 L265.96,266.66 L266.02,267.52 L266.08,268.37 L266.14,269.22 L266.20,270.07 L266.26,270.90 L266.32,271.73 L266.38,272.56 L266.44,273.38 L266.50,274.19 L266.56,274.99 L266.62,275.79 L266.68,276.59 L266.74,277.37 L266.80,278.15 L266.86,278.93 L266.92,279.70 L266.98,280.46 L267.04,281.22 L267.10,281.97 L267.16,282.72 L267.22,283.46 L267.28,284.20 L267.34,284.93 L267.40,285.65 L267.46,286.37 L267.52,287.08 L267.58,287.79 L267.64,288.49 L267.70,289.19 L267.76,289.89 L267.82,290.57 L267.88,291.26 L267.94,291.93 L268.00,292.61 L268.06,293.27 L268.12,293.94 L268.18,294.60 L268.24,295.25 L268.30,295.90 L268.36,296.54 L268.42,297.18 L268.48,297.82 L268.54,298.45 L268.60,299.07 L268.66,299.70 L268.72,300.31 L268.78,300.93 L268.84,301.54 L268.90,302.14 L268.96,302.74 L269.04,303.54 L269.12,304.32 L269.20,305.10 L269.28,305.88 L269.36,306.64 L269.44,307.40 L269.52,308.16 L269.60,308.91 L269.68,309.65 L269.76,310.38 L269.84,311.11 L269.92,311.83 L270.00,312.55 L270.08,313.26 L270.16,313.97 L270.24,314.67 L270.32,315.37 L270.40,316.06 L270.48,316.74 L270.56,317.42 L270.64,318.10 L270.72,318.77 L270.80,319.43 L270.88,320.10 L270.96,320.75 L271.04,321.41 L271.12,322.06 L271.20,322.70 L271.28,323.34 L271.36,323.98 L271.44,324.62 L271.52,325.25 L271.60,325.87 L271.68,326.50 L271.76,327.12 L271.84,327.74 L271.92,328.35 L272.00,328.97 L272.08,329.58 L272.16,330.18 L272.24,330.79 L272.32,331.39 L272.40,331.98 L272.50,332.72 L272.60,333.44 L272.70,334.16 L272.80,334.87 L272.90,335.56 L273.00,336.25 L273.10,336.92 L273.20,337.57 L273.30,338.21 L273.40,338.83 L273.50,339.44 L273.62,340.14 L273.74,340.81 L273.86,341.45 L273.98,342.07 L274.12,342.74 L274.26,343.36 L274.42,344.02 L274.58,344.60 L274.76,345.18 L274.98,345.75 L275.26,346.28 L275.70,346.68 L276.26,346.49 L276.62,345.99 L276.90,345.41 L277.12,344.84 L277.32,344.24 L277.50,343.64 L277.66,343.06 L277.82,342.44 L277.98,341.78 L278.12,341.17 L278.26,340.53 L278.40,339.86 L278.52,339.27 L278.64,338.66 L278.76,338.03 L278.88,337.39 L279.00,336.73 L279.12,336.05 L279.24,335.36 L279.36,334.66 L279.46,334.07 L279.56,333.46 L279.66,332.85 L279.76,332.23 L279.86,331.60 L279.96,330.97 L280.06,330.33 L280.16,329.68 L280.26,329.03 L280.36,328.38 L280.46,327.72 L280.56,327.06 L280.66,326.39 L280.76,325.72 L280.86,325.04 L280.96,324.37 L281.06,323.69 L281.16,323.01 L281.26,322.32 L281.36,321.63 L281.46,320.94 L281.56,320.25 L281.66,319.55 L281.76,318.85 L281.86,318.15 L281.96,317.45 L282.06,316.74 L282.16,316.04 L282.26,315.33 L282.36,314.62 L282.46,313.90 L282.56,313.19 L282.66,312.47 L282.76,311.75 L282.86,311.03 L282.96,310.31 L283.06,309.59 L283.16,308.87 L283.26,308.14 L283.36,307.41 L283.46,306.69 L283.56,305.96 L283.66,305.23 L283.76,304.50 L283.86,303.77 L283.96,303.04 L284.06,302.31 L284.16,301.57 L284.26,300.84 L284.36,300.11 L284.46,299.38 L284.56,298.64 L284.66,297.91 L284.76,297.18 L284.86,296.44 L284.96,295.71 L285.06,294.98 L285.16,294.24 L285.26,293.51 L285.36,292.78 L285.46,292.05 L285.56,291.32 L285.66,290.59 L285.76,289.86 L285.86,289.13 L285.96,288.41 L286.06,287.68 L286.16,286.96 L286.26,286.23 L286.36,285.51 L286.46,284.79 L286.56,284.07 L286.66,283.35 L286.76,282.64 L286.86,281.92 L286.96,281.21 L287.06,280.50 L287.16,279.79 L287.26,279.09 L287.36,278.38 L287.46,277.68 L287.56,276.98 L287.66,276.28 L287.76,275.59 L287.86,274.90 L287.96,274.21 L288.06,273.52 L288.16,272.83 L288.26,272.15 L288.36,271.48 L288.46,270.80 L288.56,270.13 L288.66,269.46 L288.76,268.79 L288.86,268.13 L288.96,267.47 L289.06,266.82 L289.16,266.16 L289.26,265.52 L289.36,264.87 L289.46,264.23 L289.56,263.60 L289.66,262.96 L289.76,262.33 L289.86,261.71 L289.96,261.09 L290.06,260.47 L290.16,259.86 L290.26,259.26 L290.36,258.65 L290.46,258.06 L290.56,257.46 L290.68,256.76 L290.80,256.06 L290.92,255.37 L291.04,254.69 L291.16,254.01 L291.28,253.34 L291.40,252.68 L291.52,252.03 L291.64,251.39 L291.76,250.75 L291.88,250.13 L292.00,249.51 L292.12,248.90 L292.24,248.29 L292.36,247.70 L292.50,247.01 L292.64,246.34 L292.78,245.67 L292.92,245.01 L293.06,244.37 L293.20,243.72 L293.34,243.09 L293.48,242.46 L293.62,241.84 L293.76,241.23 L293.90,240.62 L294.04,240.01 L294.18,239.41 L294.32,238.81 L294.46,238.22 L294.60,237.63 L294.74,237.04 L294.88,236.46 L295.02,235.87 L295.18,235.21 L295.34,234.54 L295.50,233.88 L295.66,233.21 L295.80,232.63 L295.94,232.04 L296.08,231.45 L296.22,230.86 L296.36,230.27 L296.50,229.68 L296.64,229.08 L296.78,228.47 L296.92,227.86 L297.06,227.25 L297.20,226.63 L297.34,226.00 L297.48,225.37 L297.62,224.73 L297.76,224.08 L297.90,223.43 L298.04,222.77 L298.18,222.09 L298.32,221.41 L298.44,220.82 L298.56,220.22 L298.68,219.61 L298.80,218.99 L298.92,218.37 L299.04,217.74 L299.16,217.10 L299.28,216.46 L299.40,215.81 L299.52,215.17 L299.64,214.52 L299.76,213.88 L299.88,213.24 L300.00,212.60 L300.12,211.96 L300.24,211.33 L300.36,210.71 L300.48,210.10 L300.60,209.49 L300.72,208.90 L300.86,208.22 L301.00,207.56 L301.14,206.92 L301.28,206.31 L301.42,205.71 L301.58,205.07 L301.74,204.46 L301.92,203.83 L302.10,203.24 L302.30,202.67 L302.54,202.08 L302.82,201.52 L303.16,201.01 L303.62,200.61 L304.20,200.50 L304.76,200.73 L305.22,201.12 L305.62,201.57 L306.00,202.07 L306.36,202.58 L306.70,203.07 L307.06,203.59 L307.42,204.09 L307.80,204.57 L308.20,205.03 L308.62,205.46 L309.06,205.88 L309.52,206.29 L309.98,206.68 L310.44,207.08 L310.90,207.49 L311.34,207.91 L311.76,208.36 L312.16,208.82 L312.54,209.31 L312.90,209.83 L313.22,210.34 L313.52,210.86 L313.80,211.40 L314.08,211.97 L314.34,212.54 L314.58,213.10 L314.82,213.68 L315.06,214.28 L315.28,214.85 L315.50,215.43 L315.72,216.02 L315.94,216.62 L316.16,217.23 L316.38,217.85 L316.60,218.47 L316.82,219.09 L317.04,219.71 L317.26,220.33 L317.48,220.94 L317.70,221.55 L317.92,222.15 L318.14,222.74 L318.36,223.32 L318.58,223.88 L318.82,224.47 L319.06,225.04 L319.32,225.63 L319.58,226.19 L319.86,226.75 L320.16,227.31 L320.46,227.84 L320.78,228.35 L321.12,228.86 L321.48,229.34 L321.88,229.83 L322.30,230.28 L322.74,230.70 L323.20,231.09 L323.70,231.46 L324.22,231.79 L324.76,232.08 L325.30,232.35 L325.86,232.60 L326.42,232.83 L326.98,233.05 L327.54,233.27 L328.10,233.50 L328.66,233.74 L329.22,234.02 L329.76,234.31 L330.28,234.63 L330.78,234.98 L331.26,235.36 L331.72,235.77 L332.16,236.21 L332.58,236.67 L332.98,237.15 L333.36,237.66 L333.72,238.18 L334.06,238.71 L334.38,239.25 L334.68,239.78 L334.96,240.32 L335.24,240.88 L335.50,241.43 L335.76,242.00 L336.00,242.55 L336.24,243.12 L336.48,243.72 L336.70,244.28 L336.92,244.86 L337.14,245.46 L337.36,246.07 L337.56,246.64 L337.76,247.23 L337.96,247.83 L338.16,248.45 L338.36,249.08 L338.54,249.66 L338.72,250.25 L338.90,250.85 L339.08,251.46 L339.26,252.08 L339.44,252.71 L339.62,253.36 L339.78,253.94 L339.94,254.53 L340.10,255.12 L340.26,255.73 L340.42,256.34 L340.58,256.97 L340.74,257.60 L340.90,258.24 L341.06,258.88 L341.22,259.54 L341.38,260.20 L341.52,260.79 L341.66,261.38 L341.80,261.98 L341.94,262.59 L342.08,263.20 L342.22,263.81 L342.36,264.44 L342.50,265.06 L342.64,265.70 L342.78,266.34 L342.92,266.98 L343.06,267.64 L343.20,268.29 L343.34,268.96 L343.48,269.63 L343.62,270.30 L343.76,270.98 L343.90,271.67 L344.02,272.26 L344.14,272.86 L344.26,273.46 L344.38,274.06 L344.50,274.67 L344.62,275.28 L344.74,275.90 L344.86,276.52 L344.98,277.14 L345.10,277.77 L345.22,278.40 L345.34,279.04 L345.46,279.68 L345.58,280.32 L345.70,280.97 L345.82,281.62 L345.94,282.28 L346.06,282.94 L346.18,283.60 L346.30,284.26 L346.42,284.93 L346.54,285.61 L346.66,286.29 L346.78,286.97 L346.90,287.65 L347.02,288.34 L347.14,289.04 L347.26,289.73 L347.38,290.44 L347.50,291.14 L347.60,291.73 L347.70,292.33 L347.80,292.93 L347.90,293.53 L348.00,294.13 L348.10,294.74 L348.20,295.35 L348.30,295.96 L348.40,296.58 L348.50,297.20 L348.60,297.82 L348.70,298.45 L348.80,299.08 L348.90,299.71 L349.00,300.35 L349.10,300.99 L349.20,301.63 L349.30,302.28 L349.40,302.93 L349.50,303.58 L349.60,304.24 L349.70,304.90 L349.80,305.57 L349.90,306.24 L350.00,306.91 L350.10,307.59 L350.20,308.27 L350.30,308.95 L350.40,309.64 L350.50,310.33 L350.60,311.02 L350.70,311.72 L350.80,312.43 L350.90,313.13 L351.00,313.84 L351.10,314.56 L351.20,315.27 L351.30,315.99 L351.40,316.72 L351.50,317.44 L351.60,318.17 L351.70,318.89 L351.80,319.62 L351.90,320.35 L352.00,321.08 L352.10,321.81 L352.20,322.54 L352.30,323.26 L352.40,323.99 L352.50,324.72 L352.60,325.44 L352.70,326.16 L352.80,326.88 L352.90,327.60 L353.00,328.32 L353.10,329.03 L353.20,329.73 L353.30,330.44 L353.40,331.14 L353.50,331.83 L353.60,332.52 L353.70,333.21 L353.80,333.89 L353.90,334.56 L354.00,335.23 L354.10,335.89 L354.20,336.54 L354.30,337.19 L354.40,337.82 L354.50,338.45 L354.60,339.08 L354.70,339.69 L354.80,340.29 L354.90,340.89 L355.02,341.59 L355.14,342.28 L355.26,342.95 L355.38,343.61 L355.50,344.25 L355.62,344.88 L355.74,345.48 L355.86,346.07 L356.00,346.74 L356.14,347.38 L356.28,347.99 L356.42,348.57 L356.58,349.21 L356.74,349.80 L356.92,350.43 L357.10,351.01 L357.30,351.60 L357.52,352.18 L357.76,352.75 L358.04,353.32 L358.36,353.85 L358.74,354.32 L359.22,354.67 L359.82,354.78 L360.38,354.55 L360.84,354.14 L361.22,353.66 L361.56,353.13 L361.86,352.59 L362.14,352.02 L362.40,351.44 L362.64,350.86 L362.86,350.29 L363.08,349.69 L363.28,349.12 L363.48,348.53 L363.68,347.91 L363.86,347.34 L364.04,346.75 L364.22,346.14 L364.40,345.51 L364.58,344.87 L364.74,344.28 L364.90,343.68 L365.06,343.06 L365.22,342.43 L365.38,341.78 L365.54,341.11 L365.68,340.51 L365.82,339.90 L365.96,339.28 L366.10,338.64 L366.24,337.98 L366.38,337.31 L366.52,336.63 L366.64,336.03 L366.76,335.42 L366.88,334.80 L367.00,334.17 L367.12,333.52 L367.24,332.87 L367.36,332.20 L367.48,331.51 L367.60,330.82 L367.72,330.11 L367.82,329.51 L367.92,328.90 L368.02,328.28 L368.12,327.65 L368.22,327.02 L368.32,326.37 L368.42,325.71 L368.52,325.04 L368.62,324.37 L368.72,323.68 L368.82,322.98 L368.92,322.27 L369.02,321.55 L369.12,320.82 L369.22,320.08 L369.30,319.48 L369.38,318.88 L369.46,318.26 L369.54,317.64 L369.62,317.02 L369.70,316.38 L369.78,315.74 L369.86,315.09 L369.94,314.43 L370.02,313.77 L370.10,313.09 L370.18,312.41 L370.26,311.73 L370.34,311.03 L370.42,310.33 L370.50,309.62 L370.58,308.90 L370.66,308.17 L370.74,307.44 L370.82,306.70 L370.90,305.95 L370.98,305.19 L371.06,304.42 L371.14,303.65 L371.22,302.87 L371.30,302.07 L371.36,301.48 L371.42,300.87 L371.48,300.26 L371.54,299.65 L371.60,299.03 L371.66,298.41 L371.72,297.79 L371.78,297.16 L371.84,296.52 L371.90,295.88 L371.96,295.24 L372.02,294.59 L372.08,293.94 L372.14,293.29 L372.20,292.63 L372.26,291.96 L372.32,291.30 L372.38,290.62 L372.44,289.95 L372.50,289.27 L372.56,288.59 L372.62,287.90 L372.68,287.21 L372.74,286.52 L372.80,285.82 L372.86,285.12 L372.92,284.42 L372.98,283.71 L373.04,283.00 L373.10,282.28 L373.16,281.56 L373.22,280.84 L373.28,280.12 L373.34,279.39 L373.40,278.66 L373.46,277.93 L373.52,277.19 L373.58,276.45 L373.64,275.71 L373.70,274.96 L373.76,274.21 L373.82,273.46 L373.88,272.71 L373.94,271.95 L374.00,271.19 L374.06,270.43 L374.12,269.67 L374.18,268.90 L374.24,268.13 L374.30,267.36 L374.36,266.58 L374.42,265.81 L374.48,265.03 L374.54,264.25 L374.60,263.46 L374.66,262.68 L374.72,261.89 L374.78,261.10 L374.84,260.31 L374.90,259.51 L374.96,258.72 L375.02,257.92 L375.08,257.12 L375.14,256.32 L375.20,255.52 L375.26,254.71 L375.32,253.91 L375.38,253.10 L375.44,252.29 L375.50,251.48 L375.56,250.66 L375.62,249.85 L375.68,249.03 L375.74,248.22 L375.80,247.40 L375.86,246.58 L375.92,245.76 L375.98,244.94 L376.04,244.11 L376.10,243.29 L376.16,242.46 L376.22,241.64 L376.28,240.81 L376.34,239.98 L376.40,239.15 L376.46,238.32 L376.52,237.49 L376.58,236.66 L376.64,235.83 L376.70,235.00 L376.76,234.16 L376.82,233.33 L376.88,232.50 L376.94,231.66 L377.00,230.83 L377.06,229.99 L377.12,229.15 L377.18,228.32 L377.24,227.48 L377.30,226.65 L377.36,225.81 L377.42,224.97 L377.48,224.14 L377.54,223.30 L377.60,222.46 L377.66,221.63 L377.72,220.79 L377.78,219.95 L377.84,219.12 L377.90,218.28 L377.96,217.45 L378.02,216.61 L378.08,215.78 L378.14,214.94 L378.20,214.11 L378.26,213.28 L378.32,212.44 L378.38,211.61 L378.44,210.78 L378.50,209.95 L378.56,209.12 L378.62,208.29 L378.68,207.46 L378.74,206.64 L378.80,205.81 L378.86,204.99 L378.92,204.16 L378.98,203.34 L379.04,202.52 L379.10,201.70 L379.16,200.88 L379.22,200.06 L379.28,199.24 L379.34,198.43 L379.40,197.61 L379.46,196.80 L379.52,195.99 L379.58,195.18 L379.64,194.37 L379.70,193.56 L379.76,192.76 L379.82,191.96 L379.88,191.16 L379.94,190.36 L380.00,189.56 L380.06,188.76 L380.12,187.97 L380.18,187.18 L380.24,186.39 L380.30,185.60 L380.36,184.82 L380.42,184.03 L380.48,183.25 L380.54,182.47 L380.60,181.70 L380.66,180.92 L380.72,180.15 L380.78,179.38 L380.84,178.62 L380.90,177.85 L380.96,177.09 L381.02,176.33 L381.08,175.57 L381.14,174.82 L381.20,174.07 L381.26,173.32 L381.32,172.58 L381.38,171.84 L381.44,171.10 L381.50,170.36 L381.56,169.63 L381.62,168.90 L381.68,168.17 L381.74,167.45 L381.80,166.73 L381.86,166.01 L381.92,165.29 L381.98,164.58 L382.04,163.88 L382.10,163.17 L382.16,162.47 L382.22,161.78 L382.28,161.08 L382.34,160.39 L382.40,159.71 L382.46,159.02 L382.52,158.35 L382.58,157.67 L382.64,157.00 L382.70,156.33 L382.76,155.67 L382.82,155.01 L382.88,154.35 L382.94,153.69 L383.00,153.04 L383.06,152.40 L383.12,151.76 L383.18,151.12 L383.24,150.48 L383.30,149.85 L383.36,149.22 L383.42,148.60 L383.48,147.98 L383.54,147.36 L383.60,146.75 L383.66,146.14 L383.72,145.53 L383.78,144.93 L383.84,144.33 L383.92,143.54 L384.00,142.75 L384.08,141.97 L384.16,141.20 L384.24,140.44 L384.32,139.68 L384.40,138.93 L384.48,138.18 L384.56,137.44 L384.64,136.71 L384.72,135.98 L384.80,135.27 L384.88,134.55 L384.96,133.85 L385.04,133.15 L385.12,132.46 L385.20,131.77 L385.28,131.10 L385.36,130.43 L385.44,129.76 L385.52,129.10 L385.60,128.45 L385.68,127.81 L385.76,127.17 L385.84,126.54 L385.92,125.92 L386.00,125.31 L386.08,124.70 L386.16,124.09 L386.24,123.50 L386.34,122.77 L386.44,122.04 L386.54,121.33 L386.64,120.63 L386.74,119.94 L386.84,119.26 L386.94,118.59 L387.04,117.94 L387.14,117.29 L387.24,116.66 L387.34,116.03 L387.44,115.42 L387.54,114.82 L387.66,114.12 L387.78,113.43 L387.90,112.75 L388.02,112.10 L388.14,111.46 L388.26,110.83 L388.38,110.22 L388.50,109.63 L388.64,108.96 L388.78,108.32 L388.92,107.69 L389.06,107.09 L389.22,106.43 L389.38,105.80 L389.54,105.20 L389.72,104.56 L389.90,103.96 L390.10,103.33 L390.30,102.74 L390.52,102.14 L390.76,101.54 L391.02,100.95 L391.30,100.39 L391.62,99.84 L391.98,99.33 L392.40,98.88 L392.90,98.52 L393.48,98.34 L394.08,98.40 L394.64,98.66 L395.12,99.02 L395.56,99.46 L395.94,99.93 L396.30,100.44 L396.62,100.96 L396.92,101.50 L397.20,102.04 L397.46,102.58 L397.72,103.16 L397.96,103.72 L398.20,104.31 L398.42,104.88 L398.64,105.48 L398.86,106.10 L399.06,106.69 L399.26,107.30 L399.46,107.93 L399.64,108.51 L399.82,109.11 L400.00,109.72 L400.18,110.36 L400.36,111.01 L400.52,111.60 L400.68,112.20 L400.84,112.82 L401.00,113.45 L401.16,114.09 L401.32,114.74 L401.46,115.33 L401.60,115.92 L401.74,116.52 L401.88,117.14 L402.02,117.76 L402.16,118.39 L402.30,119.03 L402.44,119.68 L402.58,120.34 L402.72,121.01 L402.86,121.69 L402.98,122.28 L403.10,122.88 L403.22,123.48 L403.34,124.09 L403.46,124.70 L403.58,125.32 L403.70,125.95 L403.82,126.59 L403.94,127.23 L404.06,127.87 L404.18,128.53 L404.30,129.19 L404.42,129.85 L404.54,130.52 L404.66,131.20 L404.78,131.88 L404.90,132.57 L405.02,133.26 L405.14,133.96 L405.26,134.67 L405.36,135.26 L405.46,135.86 L405.56,136.46 L405.66,137.06 L405.76,137.67 L405.86,138.28 L405.96,138.89 L406.06,139.51 L406.16,140.13 L406.26,140.76 L406.36,141.39 L406.46,142.02 L406.56,142.66 L406.66,143.29 L406.76,143.94 L406.86,144.58 L406.96,145.23 L407.06,145.89 L407.16,146.54 L407.26,147.20 L407.36,147.86 L407.46,148.53 L407.56,149.20 L407.66,149.87 L407.76,150.55 L407.86,151.23 L407.96,151.91 L408.06,152.59 L408.16,153.28 L408.26,153.97 L408.36,154.66 L408.46,155.36 L408.56,156.06 L408.66,156.76 L408.76,157.46 L408.86,158.17 L408.96,158.88 L409.06,159.59 L409.16,160.31 L409.26,161.03 L409.36,161.75 L409.46,162.47 L409.56,163.19 L409.66,163.92 L409.76,164.65 L409.86,165.39 L409.96,166.12 L410.06,166.86 L410.16,167.60 L410.26,168.34 L410.34,168.94 L410.42,169.53 L410.50,170.13 L410.58,170.73 L410.66,171.33 L410.74,171.94 L410.82,172.54 L410.90,173.14 L410.98,173.75 L411.06,174.36 L411.14,174.97 L411.22,175.58 L411.30,176.19 L411.38,176.80 L411.46,177.42 L411.54,178.03 L411.62,178.65 L411.70,179.27 L411.78,179.88 L411.86,180.50 L411.94,181.13 L412.02,181.75 L412.10,182.37 L412.18,183.00 L412.26,183.62 L412.34,184.25 L412.42,184.87 L412.50,185.50 L412.58,186.13 L412.66,186.76 L412.74,187.39 L412.82,188.03 L412.90,188.66 L412.98,189.29 L413.06,189.93 L413.14,190.56 L413.22,191.20 L413.30,191.84 L413.38,192.48 L413.46,193.12 L413.54,193.76 L413.62,194.40 L413.70,195.04 L413.78,195.68 L413.86,196.32 L413.94,196.97 L414.02,197.61 L414.10,198.26 L414.18,198.90 L414.26,199.55 L414.34,200.20 L414.42,200.84 L414.50,201.49 L414.58,202.14 L414.66,202.79 L414.74,203.44 L414.82,204.09 L414.90,204.74 L414.98,205.39 L415.06,206.05 L415.14,206.70 L415.22,207.35 L415.30,208.00 L415.38,208.66 L415.46,209.31 L415.54,209.97 L415.62,210.62 L415.70,211.28 L415.78,211.93 L415.86,212.59 L415.94,213.25 L416.02,213.90 L416.10,214.56 L416.18,215.22 L416.26,215.87 L416.34,216.53 L416.42,217.19 L416.50,217.85 L416.58,218.50 L416.66,219.16 L416.74,219.82 L416.82,220.48 L416.90,221.14 L416.98,221.80 L417.06,222.46 L417.14,223.11 L417.22,223.77 L417.30,224.43 L417.38,225.09 L417.46,225.75 L417.54,226.41 L417.62,227.07 L417.70,227.73 L417.78,228.38 L417.86,229.04 L417.94,229.70 L418.02,230.36 L418.10,231.02 L418.18,231.68 L418.26,232.33 L418.34,232.99 L418.42,233.65 L418.50,234.31 L418.58,234.96 L418.66,235.62 L418.74,236.28 L418.82,236.93 L418.90,237.59 L418.98,238.24 L419.06,238.90 L419.14,239.55 L419.22,240.21 L419.30,240.86 L419.38,241.52 L419.46,242.17 L419.54,242.82 L419.62,243.48 L419.70,244.13 L419.78,244.78 L419.86,245.43 L419.94,246.08 L420.02,246.73 L420.10,247.38 L420.18,248.03 L420.26,248.68 L420.34,249.32 L420.42,249.97 L420.50,250.62 L420.58,251.26 L420.66,251.91 L420.74,252.55 L420.82,253.19 L420.90,253.84 L420.98,254.48 L421.06,255.12 L421.14,255.76 L421.22,256.40 L421.30,257.04 L421.38,257.68 L421.46,258.31 L421.54,258.95 L421.62,259.59 L421.70,260.22 L421.78,260.85 L421.86,261.49 L421.94,262.12 L422.02,262.75 L422.10,263.38 L422.18,264.01 L422.26,264.64 L422.34,265.26 L422.42,265.89 L422.50,266.51 L422.58,267.14 L422.66,267.76 L422.74,268.38 L422.82,269.00 L422.90,269.62 L422.98,270.24 L423.06,270.86 L423.14,271.47 L423.22,272.08 L423.30,272.70 L423.38,273.31 L423.46,273.92 L423.54,274.53 L423.62,275.14 L423.70,275.74 L423.78,276.35 L423.86,276.95 L423.94,277.56 L424.02,278.16 L424.10,278.76 L424.18,279.36 L424.26,279.95 L424.34,280.55 L424.44,281.29 L424.54,282.03 L424.64,282.77 L424.74,283.50 L424.84,284.24 L424.94,284.97 L425.04,285.69 L425.14,286.42 L425.24,287.14 L425.34,287.86 L425.44,288.58 L425.54,289.30 L425.64,290.01 L425.74,290.72 L425.84,291.42 L425.94,292.13 L426.04,292.83 L426.14,293.53 L426.24,294.22 L426.34,294.92 L426.44,295.60 L426.54,296.29 L426.64,296.97 L426.74,297.66 L426.84,298.33 L426.94,299.01 L427.04,299.68 L427.14,300.35 L427.24,301.01 L427.34,301.67 L427.44,302.33 L427.54,302.99 L427.64,303.64 L427.74,304.28 L427.84,304.93 L427.94,305.57 L428.04,306.21 L428.14,306.84 L428.24,307.47 L428.34,308.10 L428.44,308.72 L428.54,309.34 L428.64,309.96 L428.74,310.57 L428.84,311.18 L428.94,311.78 L429.04,312.37 L429.16,313.08 L429.28,313.77 L429.40,314.46 L429.52,315.13 L429.64,315.79 L429.76,316.44 L429.88,317.08 L430.00,317.70 L430.12,318.31 L430.24,318.90 L430.38,319.57 L430.52,320.22 L430.66,320.84 L430.80,321.44 L430.96,322.09 L431.12,322.70 L431.30,323.35 L431.48,323.94 L431.68,324.54 L431.90,325.12 L432.16,325.69 L432.48,326.21 L432.92,326.62 L433.50,326.63 L433.96,326.22 L434.30,325.69 L434.58,325.12 L434.82,324.54 L435.04,323.92 L435.24,323.31 L435.42,322.71 L435.60,322.07 L435.76,321.46 L435.92,320.82 L436.06,320.23 L436.20,319.62 L436.34,318.99 L436.48,318.34 L436.62,317.66 L436.74,317.06 L436.86,316.45 L436.98,315.82 L437.10,315.18 L437.22,314.53 L437.34,313.86 L437.46,313.18 L437.58,312.49 L437.70,311.78 L437.80,311.18 L437.90,310.58 L438.00,309.96 L438.10,309.34 L438.20,308.71 L438.30,308.08 L438.40,307.43 L438.50,306.78 L438.60,306.12 L438.70,305.46 L438.80,304.79 L438.90,304.12 L439.00,303.44 L439.10,302.75 L439.20,302.06 L439.30,301.36 L439.40,300.66 L439.50,299.95 L439.60,299.24 L439.70,298.52 L439.80,297.80 L439.90,297.08 L440.00,296.35 L440.10,295.62 L440.20,294.88 L440.30,294.14 L440.38,293.54 L440.46,292.94 L440.54,292.34 L440.62,291.73 L440.70,291.12 L440.78,290.51 L440.86,289.90 L440.94,289.29 L441.02,288.67 L441.10,288.05 L441.18,287.42 L441.26,286.80 L441.34,286.17 L441.42,285.54 L441.50,284.91 L441.58,284.27 L441.66,283.64 L441.74,283.00 L441.82,282.36 L441.90,281.71 L441.98,281.07 L442.06,280.42 L442.14,279.77 L442.22,279.12 L442.30,278.46 L442.38,277.80 L442.46,277.15 L442.54,276.49 L442.62,275.82 L442.70,275.16 L442.78,274.49 L442.86,273.82 L442.94,273.15 L443.02,272.48 L443.10,271.81 L443.18,271.13 L443.26,270.45 L443.34,269.77 L443.42,269.09 L443.50,268.41 L443.58,267.72 L443.66,267.04 L443.74,266.35 L443.82,265.66 L443.90,264.97 L443.98,264.28 L444.06,263.58 L444.14,262.89 L444.22,262.19 L444.30,261.49 L444.38,260.79 L444.46,260.09 L444.54,259.39 L444.62,258.68 L444.70,257.98 L444.78,257.27 L444.86,256.56 L444.94,255.85 L445.02,255.14 L445.10,254.43 L445.18,253.72 L445.26,253.01 L445.34,252.29 L445.42,251.57 L445.50,250.86 L445.58,250.14 L445.66,249.42 L445.74,248.70 L445.82,247.98 L445.90,247.26 L445.98,246.53 L446.06,245.81 L446.14,245.08 L446.22,244.36 L446.30,243.63 L446.38,242.91 L446.46,242.18 L446.54,241.45 L446.62,240.72 L446.70,239.99 L446.78,239.26 L446.86,238.53 L446.94,237.80 L447.02,237.06 L447.10,236.33 L447.18,235.60 L447.26,234.87 L447.34,234.13 L447.42,233.40 L447.50,232.66 L447.58,231.93 L447.66,231.19 L447.74,230.45 L447.82,229.72 L447.90,228.98 L447.98,228.24 L448.06,227.51 L448.14,226.77 L448.22,226.03 L448.30,225.29 L448.38,224.56 L448.46,223.82 L448.54,223.08 L448.62,222.34 L448.70,221.60 L448.78,220.87 L448.86,220.13 L448.94,219.39 L449.02,218.65 L449.10,217.91 L449.18,217.18 L449.26,216.44 L449.34,215.70 L449.42,214.96 L449.50,214.23 L449.58,213.49 L449.66,212.76 L449.74,212.02 L449.82,211.28 L449.90,210.55 L449.98,209.81 L450.06,209.08 L450.14,208.35 L450.22,207.61 L450.30,206.88 L450.38,206.15 L450.46,205.42 L450.54,204.68 L450.62,203.95 L450.70,203.22 L450.78,202.49 L450.86,201.77 L450.94,201.04 L451.02,200.31 L451.10,199.58 L451.18,198.86 L451.26,198.13 L451.34,197.41 L451.42,196.69 L451.50,195.96 L451.58,195.24 L451.66,194.52 L451.74,193.80 L451.82,193.09 L451.90,192.37 L451.98,191.65 L452.06,190.94 L452.14,190.22 L452.22,189.51 L452.30,188.80 L452.38,188.09 L452.46,187.38 L452.54,186.67 L452.62,185.96 L452.70,185.26 L452.78,184.55 L452.86,183.85 L452.94,183.15 L453.02,182.45 L453.10,181.75 L453.18,181.05 L453.26,180.36 L453.34,179.66 L453.42,178.97 L453.50,178.28 L453.58,177.59 L453.66,176.90 L453.74,176.21 L453.82,175.53 L453.90,174.85 L453.98,174.16 L454.06,173.49 L454.14,172.81 L454.22,172.14 L454.30,171.46 L454.38,170.80 L454.46,170.13 L454.54,169.47 L454.62,168.80 L454.70,168.15 L454.78,167.49 L454.86,166.84 L454.94,166.20 L455.02,165.55 L455.10,164.91 L455.18,164.27 L455.26,163.64 L455.34,163.01 L455.42,162.39 L455.50,161.77 L455.58,161.16 L455.66,160.54 L455.74,159.94 L455.82,159.34 L455.90,158.74 L456.00,158.00 L456.10,157.27 L456.20,156.55 L456.30,155.84 L456.40,155.13 L456.50,154.44 L456.60,153.75 L456.70,153.07 L456.80,152.41 L456.90,151.75 L457.00,151.10 L457.10,150.47 L457.20,149.84 L457.30,149.22 L457.40,148.62 L457.50,148.03 L457.62,147.33 L457.74,146.66 L457.86,146.00 L457.98,145.35 L458.10,144.73 L458.22,144.12 L458.36,143.44 L458.50,142.79 L458.64,142.16 L458.78,141.56 L458.94,140.91 L459.10,140.30 L459.28,139.66 L459.46,139.07 L459.66,138.48 L459.88,137.90 L460.14,137.33 L460.46,136.79 L460.88,136.33 L461.44,136.15 L461.98,136.39 L462.40,136.85 L462.74,137.37 L463.02,137.91 L463.28,138.47 L463.52,139.06 L463.74,139.64 L463.94,140.22 L464.14,140.83 L464.32,141.42 L464.50,142.03 L464.68,142.68 L464.84,143.28 L465.00,143.90 L465.16,144.55 L465.30,145.14 L465.44,145.74 L465.58,146.36 L465.72,147.00 L465.86,147.66 L466.00,148.33 L466.12,148.92 L466.24,149.53 L466.36,150.14 L466.48,150.77 L466.60,151.41 L466.72,152.07 L466.84,152.73 L466.96,153.41 L467.08,154.10 L467.20,154.80 L467.30,155.40 L467.40,156.00 L467.50,156.61 L467.60,157.23 L467.70,157.86 L467.80,158.49 L467.90,159.14 L468.00,159.79 L468.10,160.45 L468.20,161.11 L468.30,161.79 L468.40,162.47 L468.50,163.16 L468.60,163.86 L468.70,164.56 L468.80,165.28 L468.90,166.00 L469.00,166.72 L469.10,167.46 L469.20,168.20 L469.28,168.80 L469.36,169.41 L469.44,170.02 L469.52,170.63 L469.60,171.25 L469.68,171.87 L469.76,172.50 L469.84,173.13 L469.92,173.77 L470.00,174.41 L470.08,175.06 L470.16,175.71 L470.24,176.36 L470.32,177.02 L470.40,177.69 L470.48,178.35 L470.56,179.03 L470.64,179.70 L470.72,180.38 L470.80,181.07 L470.88,181.76 L470.96,182.45 L471.04,183.15 L471.12,183.85 L471.20,184.56 L471.28,185.27 L471.36,185.98 L471.44,186.70 L471.52,187.42 L471.60,188.14 L471.68,188.87 L471.76,189.60 L471.84,190.33 L471.92,191.07 L472.00,191.81 L472.08,192.55 L472.16,193.30 L472.24,194.05 L472.32,194.80 L472.40,195.55 L472.48,196.31 L472.56,197.07 L472.64,197.84 L472.72,198.60 L472.80,199.37 L472.88,200.14 L472.96,200.91 L473.04,201.69 L473.12,202.46 L473.20,203.24 L473.28,204.02 L473.36,204.80 L473.44,205.59 L473.52,206.38 L473.60,207.16 L473.68,207.95 L473.76,208.74 L473.84,209.54 L473.92,210.33 L474.00,211.13 L474.06,211.72 L474.12,212.32 L474.18,212.92 L474.24,213.52 L474.30,214.12 L474.36,214.72 L474.42,215.32 L474.48,215.93 L474.54,216.53 L474.60,217.13 L474.66,217.73 L474.72,218.34 L474.78,218.94 L474.84,219.55 L474.90,220.15 L474.96,220.75 L475.02,221.36 L475.08,221.96 L475.14,222.57 L475.20,223.18 L475.26,223.78 L475.32,224.39 L475.38,224.99 L475.44,225.60 L475.50,226.20 L475.56,226.81 L475.62,227.42 L475.68,228.02 L475.74,228.63 L475.80,229.23 L475.86,229.84 L475.92,230.44 L475.98,231.05 L476.04,231.65 L476.10,232.25 L476.16,232.86 L476.22,233.46 L476.28,234.06 L476.34,234.67 L476.40,235.27 L476.46,235.87 L476.52,236.47 L476.58,237.07 L476.64,237.67 L476.70,238.27 L476.76,238.87 L476.82,239.47 L476.88,240.07 L476.96,240.86 L477.04,241.65 L477.12,242.45 L477.20,243.24 L477.28,244.03 L477.36,244.82 L477.44,245.60 L477.52,246.39 L477.60,247.17 L477.68,247.95 L477.76,248.73 L477.84,249.50 L477.92,250.28 L478.00,251.05 L478.08,251.82 L478.16,252.58 L478.24,253.35 L478.32,254.11 L478.40,254.87 L478.48,255.63 L478.56,256.38 L478.64,257.13 L478.72,257.88 L478.80,258.63 L478.88,259.37 L478.96,260.11 L479.04,260.84 L479.12,261.58 L479.20,262.31 L479.28,263.03 L479.36,263.76 L479.44,264.48 L479.52,265.19 L479.60,265.90 L479.68,266.61 L479.76,267.32 L479.84,268.02 L479.92,268.71 L480.00,269.41 L480.08,270.09 L480.16,270.78 L480.24,271.46 L480.32,272.13 L480.40,272.80 L480.48,273.47 L480.56,274.13 L480.64,274.79 L480.72,275.44 L480.80,276.09 L480.88,276.74 L480.96,277.37 L481.04,278.01 L481.12,278.64 L481.20,279.26 L481.28,279.88 L481.36,280.49 L481.44,281.10 L481.52,281.70 L481.60,282.30 L481.70,283.04 L481.80,283.77 L481.90,284.49 L482.00,285.20 L482.10,285.90 L482.20,286.59 L482.30,287.28 L482.40,287.95 L482.50,288.61 L482.60,289.27 L482.70,289.91 L482.80,290.54 L482.90,291.17 L483.00,291.78 L483.10,292.38 L483.22,293.09 L483.34,293.78 L483.46,294.46 L483.58,295.12 L483.70,295.77 L483.82,296.40 L483.94,297.03 L484.06,297.64 L484.18,298.25 L484.30,298.85 L484.42,299.44 L484.54,300.03 L484.68,300.71 L484.82,301.40 L484.96,302.08 L485.08,302.67 L485.20,303.26 L485.32,303.86 L485.44,304.46 L485.56,305.07 L485.68,305.69 L485.80,306.31 L485.92,306.92 L486.04,307.52 L486.18,308.19 L486.32,308.84 L486.46,309.43 L486.62,310.06 L486.80,310.65 L487.02,311.22 L487.34,311.75 L487.88,311.97 L488.36,311.59 L488.70,311.09 L489.00,310.54 L489.26,310.00 L489.50,309.45 L489.74,308.84 L489.96,308.24 L490.16,307.67 L490.36,307.06 L490.56,306.42 L490.74,305.83 L490.92,305.20 L491.10,304.56 L491.26,303.97 L491.42,303.37 L491.58,302.75 L491.74,302.11 L491.90,301.46 L492.06,300.79 L492.20,300.20 L492.34,299.60 L492.48,298.99 L492.62,298.37 L492.76,297.73 L492.90,297.10 L493.04,296.45 L493.18,295.79 L493.32,295.13 L493.46,294.46 L493.60,293.79 L493.74,293.10 L493.86,292.51 L493.98,291.92 L494.10,291.32 L494.22,290.72 L494.34,290.11 L494.46,289.51 L494.58,288.89 L494.70,288.28 L494.82,287.66 L494.94,287.04 L495.06,286.42 L495.18,285.80 L495.30,285.17 L495.42,284.55 L495.54,283.92 L495.66,283.29 L495.78,282.66 L495.90,282.03 L496.02,281.40 L496.14,280.77 L496.26,280.14 L496.38,279.51 L496.50,278.88 L496.62,278.25 L496.74,277.62 L496.86,277.00 L496.98,276.37 L497.10,275.75 L497.22,275.13 L497.34,274.51 L497.46,273.89 L497.58,273.28 L497.70,272.67 L497.82,272.06 L497.94,271.46 L498.06,270.85 L498.18,270.26 L498.30,269.66 L498.42,269.07 L498.56,268.39 L498.70,267.72 L498.84,267.05 L498.98,266.39 L499.12,265.73 L499.26,265.09 L499.40,264.45 L499.54,263.82 L499.68,263.20 L499.82,262.59 L499.96,261.99 L500.10,261.40 L500.26,260.73 L500.42,260.08 L500.58,259.45 L500.74,258.82 L500.90,258.21 L501.06,257.61 L501.22,257.03 L501.40,256.38 L501.58,255.76 L501.76,255.15 L501.94,254.56 L502.12,253.98 L502.32,253.36 L502.52,252.77 L502.72,252.19 L502.94,251.58 L503.16,251.00 L503.40,250.39 L503.64,249.82 L503.90,249.23 L504.16,248.68 L504.44,248.13 L504.74,247.58 L505.06,247.06 L505.40,246.57 L505.78,246.09 L506.20,245.65 L506.68,245.26 L507.22,244.96 L507.80,244.78 L508.40,244.73 L509.00,244.82 L509.58,245.02 L510.12,245.29 L510.64,245.63 L511.12,246.00 L511.58,246.39 L512.02,246.80 L512.46,247.24 L512.88,247.68 L513.30,248.13 L513.72,248.60 L514.14,249.06 L514.54,249.51 L514.96,249.98 L515.38,250.44 L515.80,250.88 L516.24,251.33 L516.68,251.75 L517.14,252.16 L517.62,252.54 L518.12,252.90 L518.64,253.22 L519.18,253.50 L519.74,253.74 L520.32,253.94 L520.90,254.10 L521.50,254.23 L522.10,254.32 L522.70,254.37 L523.30,254.41 L523.90,254.42 L524.50,254.42 L525.10,254.40 L525.70,254.39 L526.30,254.36 L526.90,254.31 L527.50,254.20 L528.08,254.03 L528.64,253.78 L529.16,253.46 L529.64,253.09 L530.10,252.67 L530.52,252.24 L530.94,251.78 L531.34,251.30 L531.72,250.82 L532.10,250.33 L532.46,249.85 L532.82,249.35 L533.18,248.85 L533.54,248.35 L533.90,247.85 L534.26,247.35 L534.62,246.86 L535.00,246.36 L535.38,245.87 L535.76,245.41 L536.16,244.94 L536.58,244.49 L537.02,244.06 L537.48,243.66 L537.98,243.30 L538.52,243.00 L539.08,242.76 L539.66,242.59 L540.26,242.48 L540.86,242.41 L541.46,242.38 L542.06,242.37 L542.66,242.36 L543.26,242.35 L543.86,242.30 L544.46,242.22 L545.06,242.07 L545.64,241.87 L546.20,241.61 L546.74,241.31 L547.26,241.00 L547.78,240.66 L548.28,240.32 L548.78,239.98 L549.28,239.65 L549.80,239.31 L550.32,239.01 L550.86,238.72 L551.42,238.48 L552.00,238.30 L552.60,238.20 L553.20,238.20 L553.50,238.25" fill="none" stroke="#0000ff" stroke-width="2.08" stroke-linejoin="round" stroke-linecap="square"/>
</svg>
</body></html>
